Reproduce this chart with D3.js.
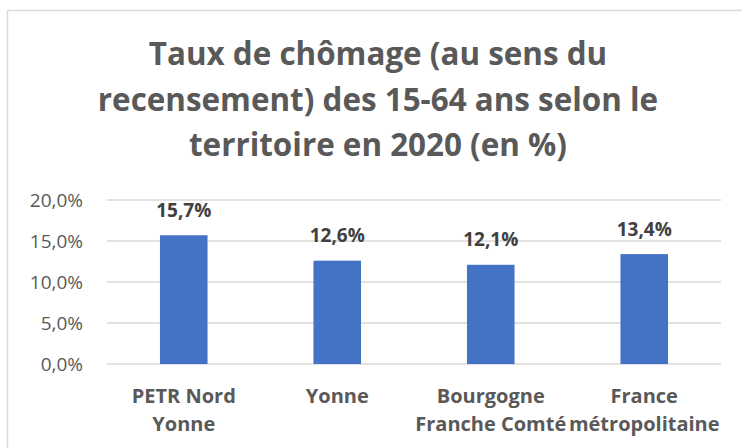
<!DOCTYPE html>
<html>
<head>
<meta charset="utf-8">
<script src="https://cdn.jsdelivr.net/npm/d3@7"></script>
<style>
  body { margin: 0; background: #fff; }
  svg { display: block; font-family: "Open Sans", sans-serif; }
</style>
</head>
<body>
<svg id="chart" width="742" height="448"></svg>
<script>
// Chart data
const categories = [["PETR Nord", "Yonne"], ["Yonne"], ["Bourgogne", "Franche Comté"], ["France", "métropolitaine"]];
const values = [15.7, 12.6, 12.1, 13.4];
const yTicks = [0, 5, 10, 15, 20];
const titleLines = ["Taux de chômage (au sens du", "recensement) des 15-64 ans selon le", "territoire en 2020 (en %)"];

const svg = d3.select("#chart");
const margin = { top: 200, left: 107, right: 21, bottom: 84 };
const width = 742 - margin.left - margin.right;
const height = 448 - margin.top - margin.bottom;

// Chart frame
svg.append("rect")
    .attr("x", 7.5).attr("y", 10.5)
    .attr("width", 760).attr("height", 460)
    .attr("fill", "#fff")
    .attr("stroke", "#d9d9d9")
    .attr("stroke-width", 1.5);

// Title
svg.append("text")
    .attr("text-anchor", "middle")
    .attr("font-size", 31.4)
    .attr("font-weight", "bold")
    .attr("fill", "#595959")
    .selectAll("tspan")
    .data(titleLines)
    .enter().append("tspan")
    .attr("x", 378)
    .attr("y", (d, i) => 65 + i * 45.7)
    .text(d => d);

const g = svg.append("g").attr("transform", `translate(${margin.left},${margin.top})`);

const x = d3.scaleBand()
    .domain(d3.range(values.length))
    .range([0, width])
    .paddingInner(0.69)
    .paddingOuter(0.345);

const y = d3.scaleLinear().domain([0, 20]).range([height, 0]);

// Gridlines
g.selectAll(".grid")
    .data(yTicks)
    .enter().append("line")
    .attr("class", "grid")
    .attr("x1", 0).attr("x2", width)
    .attr("y1", d => y(d)).attr("y2", d => y(d))
    .attr("stroke", "#d9d9d9")
    .attr("stroke-width", 1.5);

// Y axis labels
const fmt = d => d.toFixed(1).replace(".", ",") + "%";
g.selectAll(".ylab")
    .data(yTicks)
    .enter().append("text")
    .attr("class", "ylab")
    .attr("x", -24)
    .attr("y", d => y(d))
    .attr("dy", "0.36em")
    .attr("text-anchor", "end")
    .attr("font-size", 19)
    .attr("fill", "#595959")
    .text(fmt);

// Bars
g.selectAll(".bar")
    .data(values)
    .enter().append("rect")
    .attr("class", "bar")
    .attr("x", (d, i) => x(i))
    .attr("y", d => y(d))
    .attr("width", x.bandwidth())
    .attr("height", d => height - y(d))
    .attr("fill", "#4472c4");

// Value labels
g.selectAll(".vlab")
    .data(values)
    .enter().append("text")
    .attr("class", "vlab")
    .attr("x", (d, i) => x(i) + x.bandwidth() / 2)
    .attr("y", d => y(d) - 18.5)
    .attr("text-anchor", "middle")
    .attr("font-size", 19)
    .attr("font-weight", "bold")
    .attr("fill", "#404040")
    .text(fmt);

// Category labels
const cat = g.selectAll(".clab")
    .data(categories)
    .enter().append("text")
    .attr("class", "clab")
    .attr("text-anchor", "middle")
    .attr("font-size", 20)
    .attr("font-weight", "bold")
    .attr("fill", "#595959");

cat.selectAll("tspan")
    .data((d, i) => d.map(t => ({ t, i })))
    .enter().append("tspan")
    .attr("x", d => x(d.i) + x.bandwidth() / 2)
    .attr("y", (d, j) => height + 39 + j * 28)
    .text(d => d.t);
</script>
</body>
</html>
